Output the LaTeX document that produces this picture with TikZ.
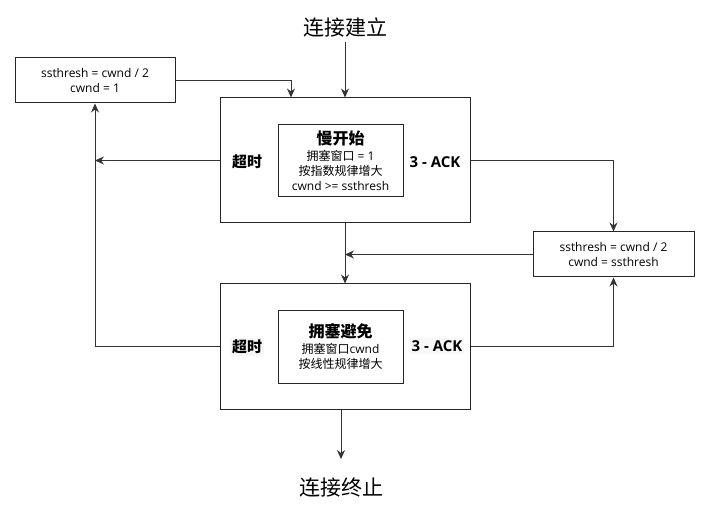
\documentclass[tikz,border=0pt]{standalone}
\usepackage{fontspec}
\setmainfont{Open Sans}
\newfontfamily\cjk{Noto Sans CJK SC}
\usetikzlibrary{arrows.meta}

\begin{document}
\begin{tikzpicture}[x=1pt,y=-1pt,
    every node/.style={inner sep=0pt,align=center,font=\fontsize{12}{15}\selectfont},
    phasebox/.style={draw=black!85,line width=1pt,minimum width=250pt,minimum height=125pt},
    rulebox/.style={draw=black!85,line width=1pt,minimum width=125pt,minimum height=72pt},
    calcbox/.style={draw=black!85,line width=1pt,minimum width=160pt,minimum height=45pt},
    trig/.style={inner sep=2pt,font=\bfseries\fontsize{15}{18}\selectfont},
    term/.style={inner sep=5pt,font=\cjk\fontsize{21}{25}\selectfont},
    link/.style={draw=black!80,line width=1pt,-{Stealth[length=9pt,width=8pt]}}]
    \useasboundingbox (0,0) rectangle (709,518);

    \node[term] (open) at (345,27) {连接建立};
    \node[term] (close) at (341,488) {连接终止};

    \node[phasebox] (slow) at (345,160.5) {};
    \node[rulebox] (slowrule) at (340.5,161) {{\cjk\bfseries\fontsize{16}{19}\selectfont 慢开始}\\[1pt]
      {\cjk 拥塞窗口} = 1\\ {\cjk 按指数规律增大}\\ cwnd >= ssthresh};
    \node[trig] (slowto) at (247,162) {\cjk 超时};
    \node[trig] (slowack) at (435,162) {3 - ACK};

    \node[phasebox] (avoid) at (345,346.5) {};
    \node[rulebox] (avoidrule) at (340.5,347) {{\cjk\bfseries\fontsize{16}{19}\selectfont 拥塞避免}\\[1pt]
      {\cjk 拥塞窗口}cwnd\\ {\cjk 按线性规律增大}};
    \node[trig,fill=gray!6] (avoidto) at (247,347) {\cjk 超时};
    \node[trig,fill=gray!6] (avoidack) at (437,346) {3 - ACK};

    \node[calcbox] (reset) at (95,80.5) {ssthresh = cwnd / 2\\ cwnd = 1};
    \node[calcbox,minimum width=161pt] (halve) at (613.5,254.5) {ssthresh = cwnd / 2\\ cwnd = ssthresh};

    % main flow
    \draw[link] (open) -- (slow.north);
    \draw[link] (slow.south) -- (avoid.north);
    \draw[link,shorten >=14pt] (avoid.south -| close) -- (close);

    % timeout
    \draw[link] (slow.west) -- (slow.west -| reset.south);
    \draw[link] (avoid.west) -| (reset.south);
    \draw[link] (reset.east) -| ([xshift=-54pt]slow.north);

    % 3 - ACK
    \draw[link] (slow.east) -| (halve.north);
    \draw[link] (avoid.east) -| (halve.south);
    \draw[link] (halve.west) -- (halve.west -| slow.south);
  \end{tikzpicture}
\end{document}
